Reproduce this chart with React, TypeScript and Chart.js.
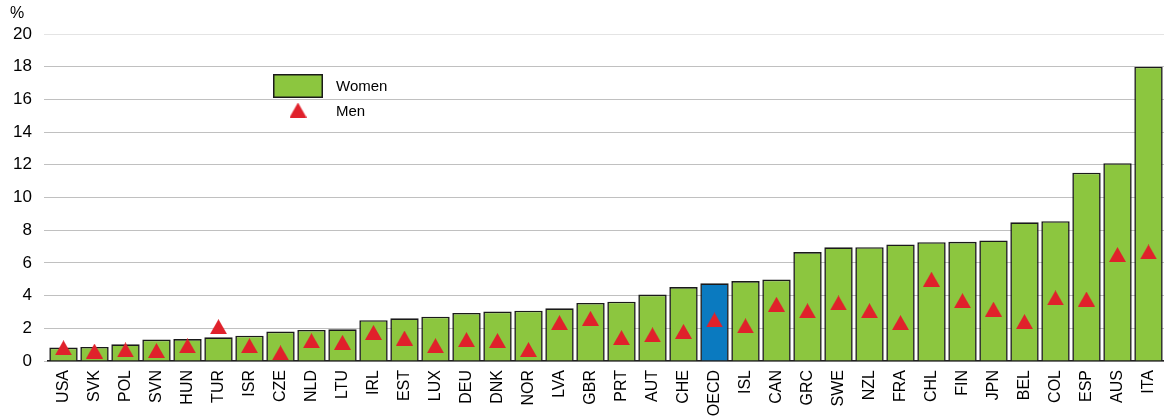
import React, { useEffect, useRef } from "react";
import { Chart, registerables } from "chart.js";

Chart.register(...registerables);

const categories = ["USA","SVK","POL","SVN","HUN","TUR","ISR","CZE","NLD","LTU","IRL","EST","LUX","DEU","DNK","NOR","LVA","GBR","PRT","AUT","CHE","OECD","ISL","CAN","GRC","SWE","NZL","FRA","CHL","FIN","JPN","BEL","COL","ESP","AUS","ITA"];
const women = [0.82,0.86,1.02,1.31,1.34,1.45,1.55,1.8,1.9,1.94,2.5,2.61,2.71,2.94,3.02,3.08,3.22,3.55,3.63,4.06,4.52,4.75,4.89,4.98,6.66,6.95,6.96,7.13,7.27,7.29,7.37,8.48,8.55,11.52,12.1,18.0];
const men = [0.81,0.61,0.68,0.64,0.93,2.1,0.94,0.5,1.24,1.14,1.75,1.4,0.94,1.31,1.25,0.7,2.35,2.61,1.43,1.6,1.81,2.51,2.15,3.47,3.07,3.55,3.08,2.35,5.0,3.69,3.17,2.41,3.86,3.79,6.51,6.67];
const seriesNames = ["Women", "Men"];
const yMin = 0;
const yMax = 20;
const yStep = 2;
const unitLabel = "%";

const GREEN = "#8CC63F";
const BLUE = "#0A7AC0";
const RED = "#E0212B";
const FONT = "'Liberation Sans', Arial, sans-serif";

function makeTriangle(w: number, h: number, color: string) {
  const c = document.createElement("canvas");
  c.width = w;
  c.height = h;
  const g = c.getContext("2d")!;
  g.fillStyle = color;
  g.beginPath();
  g.moveTo(w / 2, 0);
  g.lineTo(w, h);
  g.lineTo(0, h);
  g.closePath();
  g.fill();
  return c;
}

export default function App() {
  const ref = useRef<HTMLCanvasElement>(null);
  useEffect(() => {
    if (!ref.current) return;
    const tri = makeTriangle(17, 15, RED);
    const extras = {
      id: "extras",
      afterDraw(chart: any) {
        const ctx = chart.ctx;
        ctx.save();
        ctx.fillStyle = "#000";
        ctx.font = `16px ${FONT}`;
        ctx.textBaseline = "middle";
        ctx.textAlign = "left";
        ctx.fillText(unitLabel, 10, 14);
        // legend
        ctx.fillStyle = GREEN;
        ctx.fillRect(273, 74, 50, 24);
        ctx.strokeStyle = "#1a1a1a";
        ctx.lineWidth = 1.5;
        ctx.strokeRect(273.75, 74.75, 48.5, 22.5);
        ctx.drawImage(tri, 298 - 8.5, 110 - 7.5);
        ctx.fillStyle = "#000";
        ctx.font = `15px ${FONT}`;
        ctx.fillText(seriesNames[0], 336, 87);
        ctx.fillText(seriesNames[1], 336, 112);
        ctx.restore();
      },
    };
    const chart = new Chart(ref.current, {
      type: "bar",
      data: {
        labels: categories,
        datasets: [
          {
            type: "line",
            label: seriesNames[1],
            data: men,
            showLine: false,
            pointStyle: tri as any,
            pointRadius: 8,
            pointHoverRadius: 8,
            clip: false,
            order: 0,
          } as any,
          {
            type: "bar",
            label: seriesNames[0],
            data: women,
            backgroundColor: categories.map((c) => (c === "OECD" ? BLUE : GREEN)),
            borderColor: "#1a1a1a",
            borderWidth: 1.6,
            barPercentage: 0.915,
            categoryPercentage: 1,
            order: 1,
          },
        ],
      },
      options: {
        responsive: false,
        animation: false,
        layout: { autoPadding: false, padding: { top: 34, right: 0, left: 0, bottom: 0 } },
        plugins: { legend: { display: false }, tooltip: { enabled: false } },
        scales: {
          x: {
            grid: { display: false, drawTicks: false },
            border: { display: true, color: "#222", width: 1.5 },
            ticks: {
              autoSkip: false,
              maxRotation: 90,
              minRotation: 90,
              padding: 9,
              color: "#000",
              font: { family: FONT, size: 16 },
            },
            afterFit: (s: any) => {
              s.height = 58;
              s.paddingLeft = 0;
              s.paddingRight = 0;
            },
          },
          y: {
            min: yMin,
            max: yMax,
            z: 1,
            border: { display: false },
            grid: {
              color: (c: any) => (c.tick && c.tick.value === yMax ? "#e4e4e4" : "#c0c0c0"),
              lineWidth: 1,
              drawTicks: true,
              tickLength: 4,
            },
            ticks: {
              stepSize: yStep,
              padding: 12,
              color: "#000",
              font: { family: FONT, size: 17 },
            },
            afterFit: (s: any) => {
              s.width = 48;
              s.paddingTop = 0;
              s.paddingBottom = 0;
            },
          },
        },
      },
      plugins: [extras],
    });
    return () => chart.destroy();
  }, []);
  return (
    <div style={{ position: "absolute", left: 0, top: 0, width: 1164, height: 419, overflow: "hidden", background: "#fff" }}>
      <canvas ref={ref} width={1164} height={419} style={{ display: "block" }} />
    </div>
  );
}
